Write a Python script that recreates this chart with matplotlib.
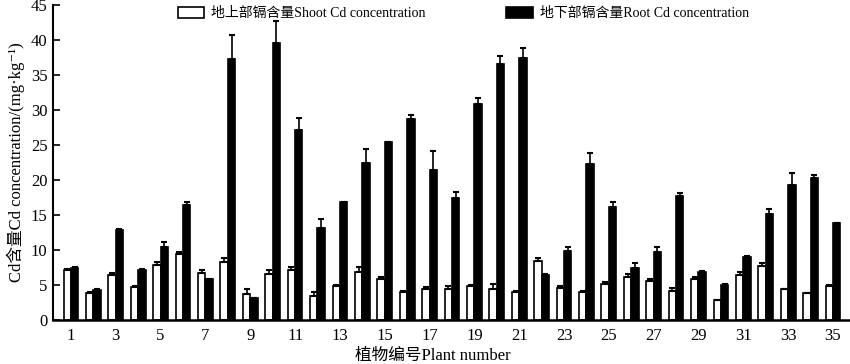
import matplotlib
matplotlib.use('Agg')
import matplotlib.pyplot as plt
import numpy as np

plt.rcParams['font.family'] = ['Liberation Serif', 'Noto Sans CJK SC', 'DejaVu Serif']
plt.rcParams['axes.unicode_minus'] = False

# plant numbers 1..35
plants = list(range(1, 36))

shoot = [7.1, 3.8, 6.5, 4.7, 7.9, 9.4, 6.7, 8.3, 3.7, 6.6,
         7.2, 3.5, 4.8, 6.8, 5.8, 4.0, 4.4, 4.4, 4.9, 4.4,
         4.0, 8.4, 4.6, 4.0, 5.2, 6.2, 5.6, 4.2, 5.9, 2.8,
         6.4, 7.7, 4.4, 3.8, 4.9]
shoot_err = [0.2, 0.2, 0.2, 0.2, 0.4, 0.3, 0.5, 0.6, 0.7, 0.5,
             0.4, 0.5, 0.2, 0.8, 0.4, 0.1, 0.3, 0.4, 0.1, 0.7,
             0.1, 0.4, 0.3, 0.1, 0.3, 0.4, 0.3, 0.4, 0.2, 0.1,
             0.5, 0.5, 0.1, 0.1, 0.1]

root = [7.5, 4.3, 12.8, 7.2, 10.4, 16.4, 5.8, 37.3, 3.1, 39.6,
        27.1, 13.2, 16.8, 22.4, 25.4, 28.7, 21.4, 17.5, 30.8, 36.6,
        37.4, 6.5, 9.9, 22.3, 16.2, 7.4, 9.7, 17.7, 6.9, 5.0,
        9.0, 15.1, 19.3, 20.3, 13.8]
root_err = [0.1, 0.1, 0.2, 0.1, 0.7, 0.5, 0.1, 3.4, 0.1, 3.1,
            1.8, 1.2, 0.1, 2.0, 0.1, 0.6, 2.8, 0.8, 0.9, 1.1,
            1.5, 0.1, 0.5, 1.6, 0.7, 0.7, 0.7, 0.5, 0.1, 0.1,
            0.2, 0.8, 1.7, 0.4, 0.1]

x = np.array(plants)
w = 0.33

fig = plt.figure(figsize=(8.5, 3.64), dpi=100)
ax = fig.add_axes([0.0624, 0.1209, 0.9376, 0.865])

ax.bar(x - w / 2, shoot, w, color='white', edgecolor='black', linewidth=1.2,
       label='地上部镉含量Shoot Cd concentration')
ax.bar(x + w / 2, root, w, color='black', edgecolor='black', linewidth=1.2,
       label='地下部镉含量Root Cd concentration')

ax.errorbar(x - w / 2, shoot, yerr=[np.zeros(len(shoot)), shoot_err], fmt='none',
            ecolor='black', elinewidth=1.2, capsize=2.5, capthick=1.5)
ax.errorbar(x + w / 2, root, yerr=[np.zeros(len(root)), root_err], fmt='none',
            ecolor='black', elinewidth=1.2, capsize=2.5, capthick=1.5)

ax.set_xlim(0.2, 35.76)
ax.set_ylim(0, 45)
ax.set_yticks(range(0, 46, 5))
ax.set_xticks(plants[::2])
ax.tick_params(axis='y', direction='in', length=5, width=1.2, labelsize=12, pad=4)
ax.tick_params(axis='x', length=0, labelsize=12, pad=6)

for s in ['top', 'right']:
    ax.spines[s].set_visible(False)
ax.spines['left'].set_linewidth(1.5)
ax.spines['bottom'].set_linewidth(1.8)

ax.set_ylabel('Cd含量Cd concentration/(mg·kg⁻¹)', fontsize=12, labelpad=4)
ax.set_xlabel('植物编号Plant number', fontsize=12)
ax.xaxis.set_label_coords(0.477, -0.088)

ax.legend(loc='upper center', bbox_to_anchor=(0.515, 1.035), ncol=2, frameon=False,
          fontsize=10, handlelength=1.9, handleheight=0.9, columnspacing=5.8,
          handletextpad=0.5)

fig.savefig('out.png', dpi=100)
